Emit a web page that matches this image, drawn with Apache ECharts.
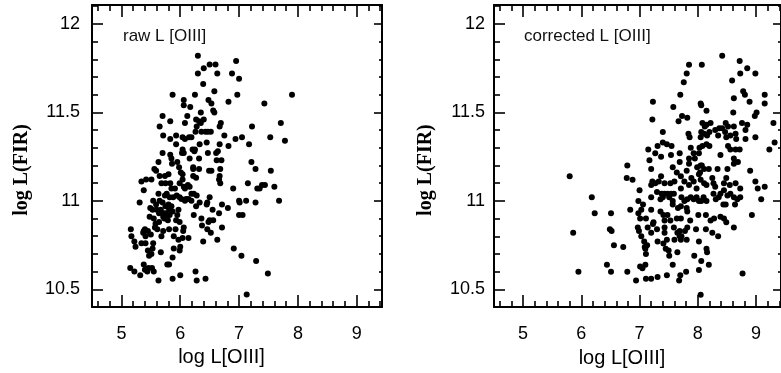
<!DOCTYPE html>
<html>
<head>
<meta charset="utf-8">
<script src="https://cdn.jsdelivr.net/npm/echarts@6/dist/echarts.min.js"></script>
<style>html,body{margin:0;padding:0;background:#fff}#c{width:781px;height:373px}</style>
</head>
<body>
<div id="c"></div>
<script>
// ---- data ----
const xMajorTicks = [5, 6, 7, 8, 9];
const xMinorTicks = [4.6, 4.8, 5.2, 5.4, 5.6, 5.8, 6.2, 6.4, 6.6, 6.8, 7.2, 7.4, 7.6, 7.8, 8.2, 8.4, 8.6, 8.8, 9.2, 9.4];
const yMajorTicks = [10.5, 11, 11.5, 12];
const yMinorTicks = [10.6, 10.7, 10.8, 10.9, 11.1, 11.2, 11.3, 11.4, 11.6, 11.7, 11.8, 11.9, 12.1];
const panelTitles = ['raw L [OIII]', 'corrected L [OIII]'];
const xName = 'log L[OIII]';
const yName = 'log L(FIR)';

const rawData = [
[6.30,11.82],[6.50,11.77],[6.60,11.77],[6.95,11.79],[6.40,11.75],
[6.30,11.72],[6.63,11.72],[6.88,11.72],[7.00,11.69],[6.39,11.66],
[6.58,11.62],[5.87,11.60],[6.25,11.60],[6.97,11.60],[7.90,11.60],
[6.06,11.57],[6.48,11.57],[6.82,11.56],[6.06,11.54],[6.17,11.53],[6.53,11.55],[7.43,11.55],[6.56,11.51],[6.35,11.50],[6.58,11.50],
[5.70,11.48],[6.12,11.48],[6.27,11.46],[6.40,11.46],[5.83,11.45],[6.69,11.44],[5.65,11.42],[6.08,11.44],[6.32,11.45],[6.35,11.44],[6.28,11.42],[6.67,11.42],[7.22,11.42],[7.71,11.44],
[6.36,11.39],[6.43,11.39],[6.47,11.39],[6.52,11.39],[6.26,11.39],[6.19,11.36],[6.04,11.36],[5.93,11.37],[5.71,11.37],[6.75,11.37],[7.05,11.36],[6.94,11.35],[7.17,11.32],[7.53,11.36],[7.78,11.34],
[5.83,11.35],[6.08,11.35],[6.15,11.36],[5.93,11.32],[6.33,11.32],[6.45,11.33],[6.67,11.32],[6.82,11.31],
[6.04,11.29],[6.21,11.29],[6.25,11.29],[6.24,11.28],[6.64,11.28],[6.61,11.27],[6.47,11.27],[6.03,11.27],[5.83,11.26],[6.06,11.27],[5.70,11.27],
[5.85,11.24],[5.95,11.22],[5.86,11.21],[5.63,11.22],[6.16,11.24],[6.32,11.24],[6.22,11.19],[6.32,11.18],[6.62,11.23],[6.70,11.23],[7.21,11.22],
[5.56,11.18],[5.59,11.17],[5.80,11.15],[5.98,11.19],[6.01,11.16],[6.22,11.18],[6.49,11.17],[6.53,11.17],[6.68,11.18],[7.28,11.18],[7.54,11.17],
[5.65,11.14],[5.74,11.14],[6.04,11.15],[6.04,11.12],[6.22,11.14],[6.27,11.13],[6.67,11.14],[6.66,11.12],[6.68,11.10],[5.34,11.11],[5.42,11.12],[5.51,11.12],[5.68,11.10],[5.75,11.10],[5.83,11.10],[6.13,11.09],[5.99,11.10],[6.16,11.08],[6.06,11.08],[7.15,11.10],[7.31,11.07],[7.35,11.07],[7.39,11.09],[7.44,11.09],[7.60,11.08],
[5.38,11.06],[5.85,11.07],[5.91,11.07],[6.08,11.07],[6.19,11.04],[6.28,11.03],[6.23,11.04],[5.94,11.03],[5.88,11.02],[5.82,11.02],[5.74,11.03],[5.77,11.04],[5.63,11.04],[5.65,11.00],[5.54,11.00],[5.31,10.99],[5.99,11.02],[6.02,11.01],[6.10,11.01],[6.14,11.01],[6.08,11.00],[6.19,11.00],[6.33,10.99],[6.50,11.02],[6.46,10.99],[6.45,10.98],[6.90,11.07],[7.00,11.00],[7.01,10.99],[7.12,11.00],[7.28,10.99],[7.68,11.00],
[5.59,10.98],[5.70,10.99],[5.75,10.97],[5.67,10.95],[5.80,10.98],[5.85,10.97],[5.81,10.95],[5.87,10.94],[5.97,10.95],[5.49,10.96],[5.60,10.95],[5.53,10.95],[5.71,10.93],[5.75,10.93],[5.64,10.93],[6.27,10.97],[6.71,10.98],[6.81,10.96],[6.66,10.93],[6.55,10.95],[7.00,10.92],[7.06,10.92],
[5.48,10.91],[5.55,10.90],[5.58,10.87],[5.64,10.88],[5.71,10.91],[5.73,10.90],[5.76,10.90],[5.79,10.89],[5.82,10.92],[5.95,10.92],[5.93,10.89],[5.99,10.88],[6.23,10.92],[6.36,10.90],[6.50,10.89],[6.48,10.88],[6.56,10.89],
[5.16,10.84],[5.40,10.84],[5.45,10.83],[5.38,10.83],[5.57,10.85],[5.61,10.84],[5.71,10.83],[5.81,10.84],[5.92,10.84],[6.06,10.85],[6.05,10.83],[6.37,10.86],[6.46,10.84],[6.52,10.82],[6.71,10.85],[5.68,10.80],[5.89,10.80],[5.97,10.78],[6.04,10.79],[6.14,10.79],[5.17,10.80],[5.37,10.82],[5.41,10.80],[5.50,10.81],
[5.34,10.76],[5.22,10.77],[5.24,10.74],[5.41,10.76],[5.54,10.76],[5.45,10.72],[5.53,10.73],[5.51,10.70],[6.00,10.74],[5.99,10.72],[5.89,10.73],[5.67,10.71],[6.39,10.77],[6.63,10.78],[6.91,10.73],
[5.47,10.69],[5.87,10.68],[7.04,10.69],[7.29,10.66],[5.78,10.64],[5.81,10.64],
[5.15,10.62],[5.22,10.60],[5.32,10.58],[5.38,10.64],[5.40,10.61],[5.43,10.61],[5.44,10.60],[5.46,10.62],[5.52,10.62],[5.55,10.60],[5.63,10.55],[5.87,10.56],[6.00,10.58],[6.26,10.60],[6.28,10.55],[6.43,10.56],[7.49,10.59],[7.13,10.47]
];

const correctedData = [
[8.42,11.82],[8.72,11.79],[8.85,11.75],[8.99,11.72],[8.73,11.72],[7.85,11.77],[8.07,11.77],[7.81,11.72],[7.76,11.67],[8.59,11.68],
[8.78,11.62],[8.81,11.60],[7.70,11.60],[9.15,11.60],[8.62,11.58],[8.89,11.56],[9.15,11.55],[8.06,11.54],[8.05,11.55],[7.58,11.53],[7.23,11.56],[8.15,11.51],[8.61,11.50],[9.01,11.50],[8.98,11.48],[7.73,11.48],[7.22,11.46],[7.67,11.45],[7.82,11.47],
[8.48,11.44],[8.52,11.42],[8.76,11.44],[8.85,11.43],[9.30,11.44],[8.08,11.44],[8.12,11.42],[8.15,11.43],[8.22,11.44],[8.42,11.41],[8.62,11.42],[8.82,11.40],
[7.40,11.39],[7.84,11.38],[7.86,11.36],[8.06,11.39],[8.05,11.36],[8.11,11.38],[8.16,11.37],[8.20,11.39],[8.30,11.40],[8.37,11.41],[8.35,11.37],[8.47,11.39],[8.49,11.36],[8.56,11.37],[8.65,11.38],[8.99,11.36],[8.82,11.35],[8.66,11.35],[9.32,11.33],[9.23,11.29],
[7.40,11.33],[7.47,11.32],[7.55,11.31],[7.31,11.31],[7.15,11.29],[7.27,11.27],[7.37,11.25],[7.54,11.26],[7.69,11.27],[7.88,11.30],[7.93,11.27],[8.08,11.31],[8.03,11.30],[8.20,11.31],[8.15,11.32],[8.52,11.31],[8.56,11.29],[8.65,11.29],[8.72,11.29],[8.39,11.26],[8.62,11.24],[8.69,11.22],[8.02,11.27],[7.85,11.24],[8.05,11.20],
[6.79,11.20],[7.17,11.23],[7.20,11.18],[7.57,11.19],[7.69,11.22],[7.85,11.21],[7.95,11.24],[8.07,11.20],[8.19,11.18],[8.34,11.18],[8.11,11.18],[8.04,11.16],[8.51,11.18],[8.62,11.21],[8.90,11.17],[7.99,11.19],[7.81,11.17],[7.71,11.14],[7.64,11.16],[7.37,11.14],[7.33,11.11],[7.22,11.11],[7.20,11.09],[7.27,11.10],[6.78,11.13],[6.88,11.12],[7.43,11.10],[7.53,11.10],[7.60,11.11],[7.77,11.11],[7.89,11.13],[7.93,11.11],[8.02,11.15],[8.05,11.12],[8.11,11.10],[8.15,11.09],[7.98,11.07],[7.85,11.09],[8.25,11.13],[8.27,11.10],[8.30,11.08],[8.49,11.13],[8.45,11.10],[8.55,11.09],[8.65,11.10],[8.99,11.11],[9.03,11.07],[9.15,11.08],[8.73,11.07],[8.45,11.06],[8.39,11.04],
[5.80,11.14],[6.18,11.02],[7.00,11.06],[7.30,11.05],[7.36,11.01],[7.38,11.04],[7.43,11.04],[7.48,11.04],[7.54,11.04],[7.59,11.04],[7.40,11.02],[7.51,11.02],[7.57,11.00],[7.71,11.07],[7.72,11.02],[7.77,11.00],[7.82,11.01],[7.88,11.02],[7.93,11.01],[7.98,11.02],[8.02,11.00],[8.06,11.00],[8.10,11.02],[8.15,11.00],[8.27,11.04],[8.31,11.01],[8.51,11.03],[8.56,11.04],[8.62,11.02],[8.68,11.01],[8.73,11.02],[8.64,10.98],[8.48,10.98],[8.36,11.02],[8.44,10.98],[7.20,11.02],[6.98,11.00],[7.57,10.98],[9.09,11.01],[7.03,10.95],[7.20,10.95],[7.06,10.98],
[6.23,10.93],[6.51,10.93],[6.84,10.95],[6.98,10.93],[7.01,10.90],[7.11,10.90],[7.24,10.88],[7.23,10.87],[7.36,10.94],[7.41,10.92],[7.48,10.92],[7.53,10.89],[7.43,10.89],[7.64,10.90],[7.71,10.90],[7.87,10.89],[8.01,10.92],[7.82,10.94],[7.81,10.96],[7.71,10.97],[7.66,10.96],[8.22,10.89],[8.28,10.90],[8.14,10.92],[8.39,10.91],[8.45,10.90],[8.49,10.88],[8.93,10.92],
[6.97,10.85],[7.14,10.85],[7.30,10.84],[7.20,10.82],[6.99,10.83],[7.43,10.85],[7.43,10.82],[7.59,10.85],[7.69,10.83],[7.72,10.80],[7.65,10.82],[7.82,10.85],[7.78,10.83],[7.97,10.84],[8.14,10.84],[8.25,10.82],[8.35,10.80],[8.62,10.85],
[5.86,10.82],[6.49,10.84],[6.52,10.83],[6.56,10.75],[6.72,10.74],[7.03,10.80],[7.08,10.77],[7.09,10.74],[7.13,10.75],[7.10,10.73],[7.31,10.77],[7.41,10.76],[7.47,10.78],[7.60,10.78],[7.45,10.73],[7.50,10.72],[7.65,10.71],[7.81,10.78],[7.71,10.78],[7.69,10.80],[8.02,10.77],[8.15,10.73],[8.16,10.71],[7.11,10.70],[7.51,10.69],
[7.57,10.64],[7.94,10.69],[8.06,10.66],[8.19,10.64],[7.10,10.64],[7.05,10.62],[7.01,10.63],[6.44,10.64],[6.51,10.60],[5.95,10.60],[6.79,10.60],[7.47,10.58],[7.70,10.58],[7.80,10.60],[8.02,10.61],[8.77,10.59],[7.31,10.57],[7.11,10.56],[7.20,10.56],[6.94,10.55],[7.68,10.55],[8.05,10.47]
];

// ---- chart ----
const X_MIN = 4.5, X_MAX = 9.43, Y_MIN = 10.4, Y_MAX = 12.107;
const sans = 'Liberation Sans, Arial, sans-serif';
const serif = 'Liberation Serif, Times New Roman, serif';
const ink = '#000';

const grids = [
  { left: 92, top: 5, width: 290, height: 302 },
  { left: 494, top: 5, width: 290, height: 303 }
];
const yLabelMargin = [12, 9];
const yNameGap = [60, 58];

function xAxes(g) {
  const base = { type: 'value', gridIndex: g, min: X_MIN, max: X_MAX, splitLine: { show: false } };
  return [
    Object.assign({}, base, {
      position: 'bottom',
      axisLine: { show: true, onZero: false, lineStyle: { color: ink, width: 2 } },
      axisTick: { show: true, inside: true, length: 12, customValues: xMajorTicks, lineStyle: { color: ink, width: 1.6 } },
      axisLabel: { show: true, customValues: xMajorTicks, margin: 18, color: ink, fontSize: 18, fontFamily: sans },
      name: xName, nameLocation: 'middle', nameGap: 39,
      nameTextStyle: { color: ink, fontSize: 20, fontFamily: sans, padding: [0, 31, 0, 0] }
    }),
    Object.assign({}, base, {
      position: 'bottom',
      axisLine: { show: false },
      axisTick: { show: true, inside: true, length: 6, customValues: xMinorTicks, lineStyle: { color: ink, width: 1.6 } },
      axisLabel: { show: false }
    }),
    Object.assign({}, base, {
      position: 'top',
      axisLine: { show: true, onZero: false, lineStyle: { color: ink, width: 2 } },
      axisTick: { show: true, inside: true, length: 12, customValues: xMajorTicks, lineStyle: { color: ink, width: 1.6 } },
      axisLabel: { show: false }
    }),
    Object.assign({}, base, {
      position: 'top',
      axisLine: { show: false },
      axisTick: { show: true, inside: true, length: 6, customValues: xMinorTicks, lineStyle: { color: ink, width: 1.6 } },
      axisLabel: { show: false }
    })
  ];
}

function yAxes(g) {
  const base = { type: 'value', gridIndex: g, min: Y_MIN, max: Y_MAX, splitLine: { show: false } };
  return [
    Object.assign({}, base, {
      position: 'left',
      axisLine: { show: true, onZero: false, lineStyle: { color: ink, width: 2 } },
      axisTick: { show: true, inside: true, length: 11, customValues: yMajorTicks, lineStyle: { color: ink, width: 1.6 } },
      axisLabel: { show: true, customValues: yMajorTicks, margin: yLabelMargin[g], color: ink, fontSize: 18, fontFamily: sans },
      name: yName, nameLocation: 'middle', nameGap: yNameGap[g], nameRotate: 90,
      nameTextStyle: { color: ink, fontSize: 20, fontWeight: 'bold', fontFamily: serif, padding: [0, 28, 0, 0] }
    }),
    Object.assign({}, base, {
      position: 'left',
      axisLine: { show: false },
      axisTick: { show: true, inside: true, length: 6, customValues: yMinorTicks, lineStyle: { color: ink, width: 1.6 } },
      axisLabel: { show: false }
    }),
    Object.assign({}, base, {
      position: 'right',
      axisLine: { show: true, onZero: false, lineStyle: { color: ink, width: 2 } },
      axisTick: { show: true, inside: true, length: 8, customValues: yMajorTicks, lineStyle: { color: ink, width: 1.6 } },
      axisLabel: { show: false }
    }),
    Object.assign({}, base, {
      position: 'right',
      axisLine: { show: false },
      axisTick: { show: true, inside: true, length: 3, customValues: yMinorTicks, lineStyle: { color: ink, width: 1.6 } },
      axisLabel: { show: false }
    })
  ];
}

const chart = echarts.init(document.getElementById('c'), null, { renderer: 'canvas' });
chart.setOption({
  backgroundColor: '#fff',
  animation: false,
  title: [
    { text: panelTitles[0], left: 123, top: 28, padding: 0, textStyle: { color: '#111', fontSize: 17, fontWeight: 'normal', fontFamily: sans } },
    { text: panelTitles[1], left: 524, top: 28, padding: 0, textStyle: { color: '#111', fontSize: 17, fontWeight: 'normal', fontFamily: sans } }
  ],
  grid: grids,
  xAxis: xAxes(0).concat(xAxes(1)),
  yAxis: yAxes(0).concat(yAxes(1)),
  series: [
    { type: 'scatter', xAxisIndex: 0, yAxisIndex: 0, data: rawData, symbol: 'circle', symbolSize: 6, itemStyle: { color: ink, opacity: 1 }, silent: true },
    { type: 'scatter', xAxisIndex: 4, yAxisIndex: 4, data: correctedData, symbol: 'circle', symbolSize: 6, itemStyle: { color: ink, opacity: 1 }, silent: true }
  ]
});
</script>
</body>
</html>
